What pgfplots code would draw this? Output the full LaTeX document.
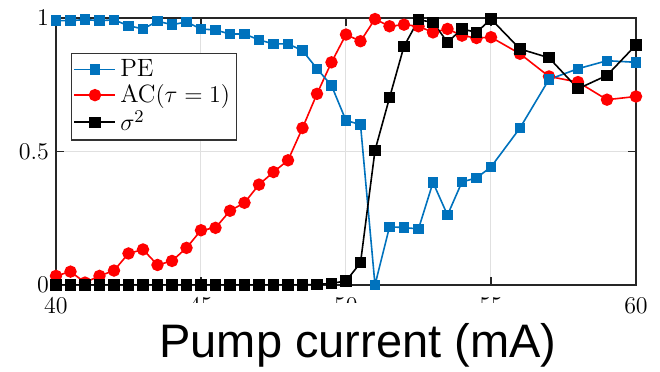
\documentclass[border=0pt]{standalone}
\usepackage{pgfplots}
\pgfplotsset{compat=1.18}
\usepackage{pgfplotstable}
\usepackage{fontspec}
\newfontfamily\arialfont{Liberation Sans}
\definecolor{peblue}{rgb}{0,0.447,0.741}

% columns: pump current, PE, AC(tau=1), variance
\pgfplotstableread{
x pe ac var
40 0.99 0.034 0
40.5 0.99 0.05 0
41 0.994 0.009 0
41.5 0.99 0.034 0
42 0.993 0.054 0
42.5 0.971 0.118 0
43 0.959 0.133 0
43.5 0.988 0.075 0
44 0.975 0.09 0
44.5 0.985 0.139 0
45 0.959 0.205 0
45.5 0.955 0.214 0
46 0.94 0.278 0
46.5 0.94 0.308 0
47 0.918 0.376 0
47.5 0.903 0.423 0
48 0.903 0.467 0
48.5 0.878 0.588 0
49 0.81 0.716 0.002
49.5 0.747 0.834 0.006
50 0.616 0.938 0.015
50.5 0.601 0.913 0.083
51 0.0 0.996 0.504
51.5 0.218 0.969 0.701
52 0.215 0.975 0.894
52.5 0.21 0.969 0.993
53 0.384 0.946 0.984
53.5 0.262 0.959 0.909
54 0.386 0.934 0.959
54.5 0.401 0.925 0.946
55 0.442 0.928 0.996
56 0.588 0.866 0.884
57 0.77 0.781 0.851
58 0.81 0.76 0.735
59 0.84 0.694 0.785
60 0.834 0.706 0.899
}\data

\pgfplotsset{
  pe/.style={peblue, line width=0.8pt, mark=square*, mark size=2.2pt, mark options={solid}},
  acs/.style={red, line width=0.8pt, mark=*, mark size=2.7pt},
  vars/.style={black, line width=0.8pt, mark=square*, mark size=2.4pt},
}

\begin{document}
\begin{tikzpicture}
\begin{axis}[
  scale only axis, width=290pt, height=133.5pt,
  xmin=40, xmax=60, ymin=0, ymax=1,
  xtick={40,45,50,55,60}, ytick={0,0.5,1},
  tick align=inside, major tick length=4pt,
  grid=major, grid style={black!12, line width=0.5pt},
  axis line style={line width=0.9pt, black!85},
  every tick/.style={black!85, line width=0.6pt},
  ticklabel style={font=\fontsize{12.5}{14}\selectfont},
  xticklabel style={yshift=-3pt},
  legend style={at={(0.026,0.869)}, anchor=north west, draw=black!80,
    line width=0.6pt, inner sep=1pt, row sep=-1.5pt,
    font=\fontsize{12.5}{14}\selectfont},
  legend cell align=left,
  legend image code/.code={\draw[mark repeat=2,mark phase=2]
    plot coordinates {(0cm,0cm) (0.36cm,0cm) (0.72cm,0cm)};},
]
\addlegendimage{pe}\addlegendentry{PE}
\addlegendimage{acs}\addlegendentry{AC$(\tau=1)$}
\addlegendimage{vars}\addlegendentry{$\sigma^2$}
\addplot[acs, forget plot] table[x=x, y=ac] {\data};
\addplot[pe, forget plot] table[x=x, y=pe] {\data};
\addplot[vars, forget plot] table[x=x, y=var] {\data};
\coordinate (SW) at (rel axis cs:0,0);
\coordinate (MID) at (rel axis cs:0,0.5);
\coordinate (NE) at (rel axis cs:1,1);
\end{axis}
% white overlays, as in the cropped slide
\fill[white] ([shift={(32pt,-9pt)}]SW) rectangle ([shift={(262pt,-43.5pt)}]SW);
\fill[white] ([shift={(-28pt,-8pt)}]MID) rectangle ([shift={(-21.5pt,8pt)}]MID);
\node[font=\arialfont\fontsize{23.5}{26}\selectfont, anchor=base]
  at ([shift={(151pt,-36.5pt)}]SW) {Pump current (mA)};
\pgfresetboundingbox
\path ([shift={(-28pt,-43.5pt)}]SW) rectangle ([shift={(12pt,9pt)}]NE);
\end{tikzpicture}
\end{document}
